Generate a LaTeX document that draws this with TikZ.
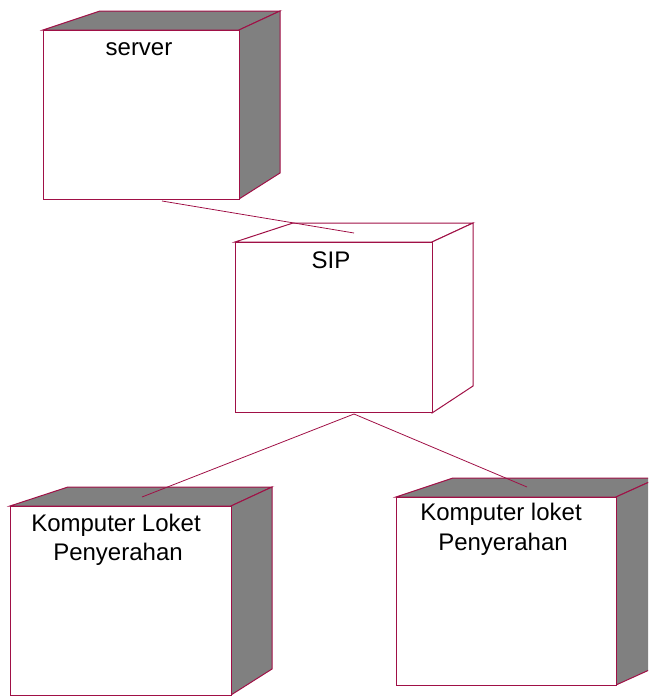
\documentclass[tikz,border=0pt]{standalone}
\usepackage{fontspec}
\setmainfont{Liberation Sans}
\definecolor{edge}{RGB}{160,16,70}
\definecolor{shade}{RGB}{128,128,128}
\begin{document}
\begin{tikzpicture}[x=1pt,y=-1pt,
  edgeline/.style={draw=edge,line width=1pt,line join=miter},
  face/.style={edgeline,fill=white,rectangle,inner sep=0pt,anchor=north west},
  darkside/.style={edgeline,fill=shade},
  lightside/.style={edgeline,fill=white},
  lbl/.style={font=\fontsize{24}{29}\selectfont,inner sep=0pt,anchor=base,text=black},
  conn/.style={draw=edge,line width=0.8pt}]
\useasboundingbox (0,0) rectangle (648,696);
\clip (0,0) rectangle (648,696);

% server
\draw[darkside] (43,30) -- (100,11) -- (280,11) -- (239,30) -- cycle;
\draw[darkside] (239,30) -- (280,11) -- (280,173) -- (239,199) -- cycle;
\node[face,minimum width=196pt,minimum height=169pt] (server) at (43,30) {};
\node[lbl] (serverlbl) at (139,55) {server};

% SIP
\draw[lightside] (235,242) -- (293,223) -- (473,223) -- (432,242) -- cycle;
\draw[lightside] (432,242) -- (473,223) -- (473,386) -- (432,413) -- cycle;
\node[face,minimum width=197pt,minimum height=170pt] (sip) at (235,242) {};
\node[lbl] (siplbl) at (331,268) {SIP};

% Komputer Loket (left)
\draw[darkside] (10,506) -- (68,487) -- (272,487) -- (231,506) -- cycle;
\draw[darkside] (231,506) -- (272,487) -- (272,669) -- (231,695) -- cycle;
\node[face,minimum width=221pt,minimum height=189pt] (kleft) at (10,506) {};
\node[lbl] (kleftA) at (116,531) {Komputer Loket};
\node[lbl] (kleftB) at (118,560) {Penyerahan};

% Komputer loket (right)
\draw[darkside] (396,497) -- (453,478) -- (658,478) -- (616,497) -- cycle;
\draw[darkside] (616,497) -- (658,478) -- (658,666) -- (616,685) -- cycle;
\node[face,minimum width=220pt,minimum height=188pt] (kright) at (396,497) {};
\node[lbl] (krightA) at (501,520) {Komputer loket};
\node[lbl] (krightB) at (503,550) {Penyerahan};

% connectors
\coordinate (c1) at (162,201);
\coordinate (c2) at (354,233);
\coordinate (c3) at (354,414);
\coordinate (c4) at (142,497);
\coordinate (c5) at (527,487);
\draw[conn] (c1) -- (c2);
\draw[conn] (c3) -- (c4);
\draw[conn] (c3) -- (c5);
\end{tikzpicture}
\end{document}
